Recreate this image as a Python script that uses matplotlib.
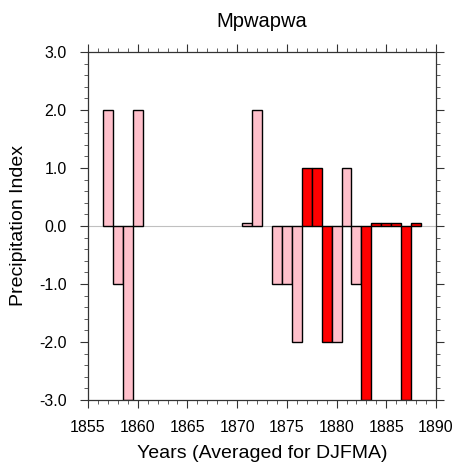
import matplotlib
matplotlib.use("Agg")
import matplotlib.pyplot as plt
from matplotlib.ticker import MultipleLocator

years = [1857, 1858, 1859, 1860, 1871, 1872, 1874, 1875, 1876, 1877, 1878,
         1879, 1880, 1881, 1882, 1883, 1884, 1885, 1886, 1887, 1888]
values = [2, -1, -3, 2, 0.05, 2, -1, -1, -2, 1, 1,
          -2, -2, 1, -1, -3, 0.05, 0.05, 0.05, -3, 0.05]
kind = ["p", "p", "p", "p", "p", "p", "p", "p", "p", "r", "r",
        "r", "p", "p", "p", "r", "r", "r", "r", "r", "r"]
color_map = {"p": "#FFC0CB", "r": "#FF0000"}
ytick_vals = [-3, -2, -1, 0, 1, 2, 3]

plt.rcParams['font.family'] = ['Liberation Sans', 'DejaVu Sans']

fig = plt.figure(figsize=(4.54, 4.69), dpi=100)
ax = fig.add_axes([88/454, 1-400/469, 348/454, 348/469])

ax.axhline(0, color="#c0c0c0", lw=0.8, zorder=1)
ax.bar(years, values, width=1.0, color=[color_map[k] for k in kind],
       edgecolor="black", linewidth=1.0, zorder=2)

ax.set_xlim(1855, 1890)
ax.set_ylim(-3, 3)
ax.xaxis.set_major_locator(MultipleLocator(5))
ax.xaxis.set_minor_locator(MultipleLocator(1))
ax.yaxis.set_minor_locator(MultipleLocator(0.2))
ax.set_yticks(ytick_vals)
ax.set_yticklabels([f"{v:.1f}" for v in ytick_vals])

ax.tick_params(which="major", direction="out", length=5.8, width=0.8,
               top=True, right=True, labelsize=11.5, color="#333333")
ax.tick_params(axis="y", which="major", pad=9.5)
ax.tick_params(axis="x", which="major", pad=8.5)
ax.tick_params(which="minor", direction="out", length=3.0, width=0.6,
               top=True, right=True, color="#444444")
for s in ax.spines.values():
    s.set_linewidth(0.9)
    s.set_color("#333333")

ax.set_title("Mpwapwa", fontsize=14.5, pad=18)
ax.set_xlabel("Years (Averaged for DJFMA)", fontsize=14, labelpad=7)
ax.set_ylabel("Precipitation Index", fontsize=14, labelpad=9)

fig.savefig("out.png", dpi=100)
